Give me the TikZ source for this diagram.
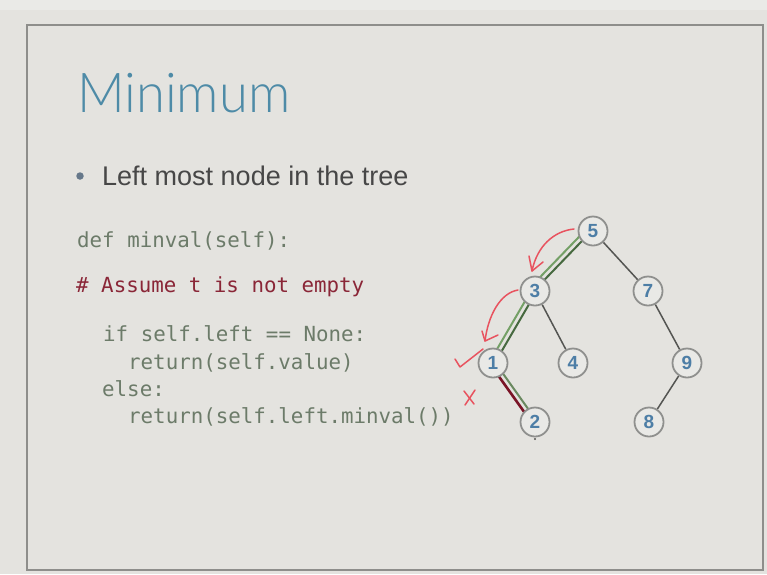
\documentclass[tikz,border=0pt]{standalone}
\usepackage{fontspec}
\setmainfont{Liberation Sans}
\newfontfamily\codefont{DejaVu Sans Mono}
\newfontfamily\titlefont{Lato Light}
\usetikzlibrary{calc}
\pgfdeclarelayer{bg}
\pgfdeclarelayer{edges}
\pgfsetlayers{bg,edges,main}

\definecolor{pagebg}{HTML}{E4E3DF}
\definecolor{framegray}{HTML}{8E8E8B}
\definecolor{titleblue}{HTML}{4E8BA7}
\definecolor{bodygray}{HTML}{474747}
\definecolor{dotgray}{HTML}{66788A}
\definecolor{codegreen}{HTML}{6C7B69}
\definecolor{codered}{HTML}{8A2637}
\definecolor{nodegray}{HTML}{8F908E}
\definecolor{nodefill}{HTML}{E9E9E6}
\definecolor{numblue}{HTML}{4D7EA6}
\definecolor{edgegray}{HTML}{545552}
\definecolor{pathdark}{HTML}{46693F}
\definecolor{pathlight}{HTML}{74A066}
\definecolor{pathred}{HTML}{7A1426}
\definecolor{penred}{HTML}{E8535F}

\tikzset{
  codeline/.style={anchor=base west, inner sep=0pt, text=codegreen,
    font=\codefont\fontsize{20.8}{25}\selectfont},
  treenode/.style={circle, draw=nodegray, line width=1.8pt, fill=nodefill,
    minimum size=29pt, inner sep=0pt, text=numblue,
    font=\bfseries\fontsize{19}{19}\selectfont},
  edge/.style={draw=edgegray, line width=1.5pt},
  pen/.style={draw=penred, line width=1.5pt, line cap=round, line join=round},
}

\begin{document}
\begin{tikzpicture}[x=1pt, y=-1pt]
\useasboundingbox (0,0) rectangle (767,574);

% slide background and frame
\begin{pgfonlayer}{bg}
  \fill[pagebg] (0,0) rectangle (767,574);
  \fill[white, opacity=0.25] (0,0) rectangle (767,10);
  \draw[framegray, line width=2pt] (27,25) rectangle (763,570);
\end{pgfonlayer}

% title and bullet
\node[anchor=base west, inner sep=0pt, text=titleblue,
      font=\titlefont\fontsize{55}{60}\selectfont] (title) at (77,112)
      {\scalebox{0.955}[1]{Minimum}};
\node[circle, fill=dotgray, inner sep=0pt, minimum size=7.5pt] (dot) at (80,176) {};
\node[anchor=base west, inner sep=0pt, text=bodygray,
      font=\fontsize{27}{32}\selectfont] (bullet) at (102,185)
      {Left most node in the tree};

% code
\node[codeline] (c1) at (77,247) {def minval(self):};
\node[codeline, text=codered] (c2) at (76,292) {\# Assume t is not empty};
\node[codeline] (c3) at (103,341) {if self.left == None:};
\node[codeline] (c4) at (128,369) {return(self.value)};
\node[codeline] (c5) at (102,396) {else:};
\node[codeline] (c6) at (128,423) {return(self.left.minval())};

% tree
\node[treenode] (n5) at (593,231) {5};
\node[treenode] (n3) at (535,291) {3};
\node[treenode] (n7) at (648,291) {7};
\node[treenode] (n1) at (493,363) {1};
\node[treenode] (n4) at (573,363) {4};
\node[treenode] (n9) at (687,363) {9};
\node[treenode] (n2) at (535,422) {2};
\node[treenode] (n8) at (649,422) {8};

\begin{pgfonlayer}{edges}
  \draw[edge] (n5) -- (n7);
  \draw[edge] (n3) -- (n4);
  \draw[edge] (n7) -- (n9);
  \draw[edge] (n9) -- (n8);
  % highlighted search path
  \draw[pathdark, line width=2pt] ($(n5)!1pt!-90:(n3)$) -- ($(n3)!1pt!90:(n5)$);
  \draw[pathlight, line width=2pt] ($(n5)!6pt!-90:(n3)$) -- ($(n3)!6pt!90:(n5)$);
  \draw[pathdark, line width=2pt] ($(n3)!-1.5pt!-90:(n1)$) -- ($(n1)!-1.5pt!90:(n3)$);
  \draw[pathlight, line width=2pt] ($(n3)!3.5pt!-90:(n1)$) -- ($(n1)!3.5pt!90:(n3)$);
  \draw[pathlight!70!edgegray, line width=2pt] ($(n1)!-2pt!-90:(n2)$) -- ($(n2)!-2pt!90:(n1)$);
  \draw[pathred, line width=2.6pt] ($(n1)!3pt!-90:(n2)$) -- ($(n2)!3pt!90:(n1)$);
\end{pgfonlayer}
\fill[edgegray] (535,439) circle (1.2);

% hand-drawn annotations
\coordinate (a1s) at (574,229);
\coordinate (a1t) at (532,271);
\draw[pen] (a1s) .. controls (554,231) and (537,246) .. (a1t);
\draw[pen] (529,256) -- (a1t) -- (543,262);
\coordinate (a2s) at (518,290);
\coordinate (a2t) at (485,341);
\draw[pen] (a2s) .. controls (500,293) and (488,316) .. (a2t);
\draw[pen] (482,331) -- (a2t) -- (498,335);
\draw[pen] (455,359) -- (460,367) -- (483,349);
\draw[pen] (464,391) -- (474,404);
\draw[pen] (475,390) -- (465,405);
\end{tikzpicture}
\end{document}
